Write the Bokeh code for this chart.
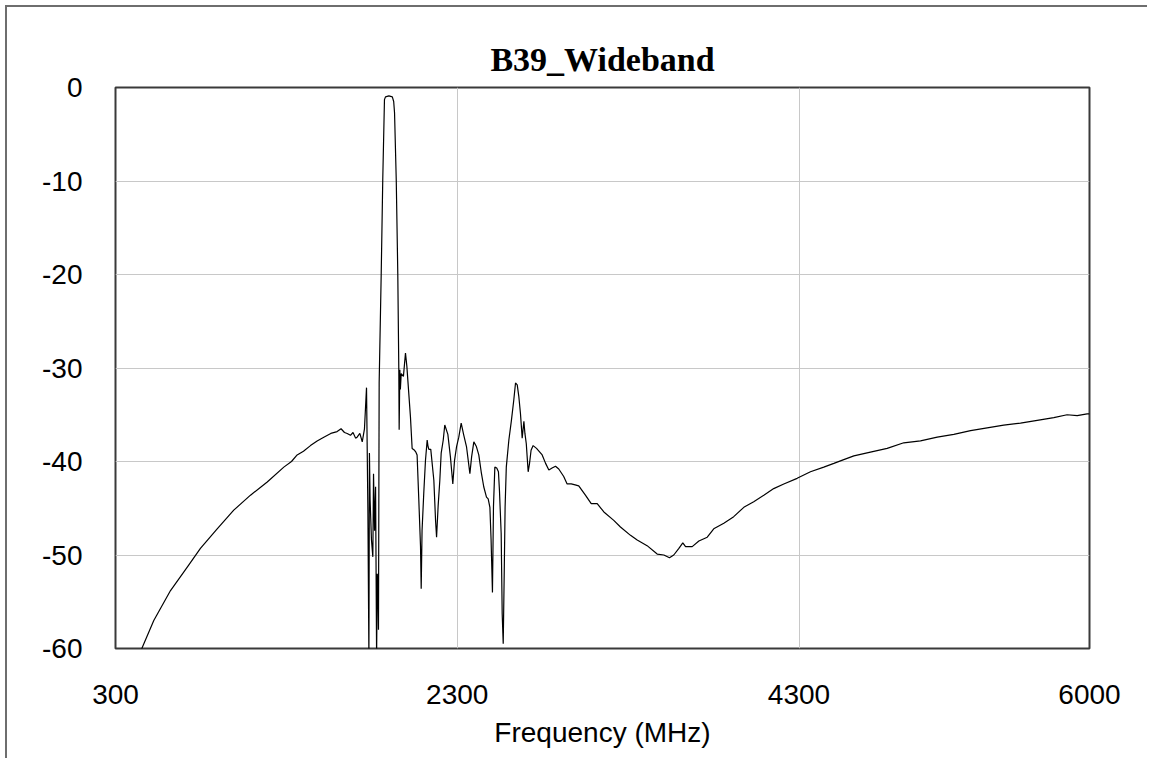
from bokeh.plotting import figure
from bokeh.layouts import column
from bokeh.models import Range1d, FixedTicker, PrintfTickFormatter
from bokeh.embed import file_html
from bokeh.resources import INLINE

title_text = "B39_Wideband"
x_label = "Frequency (MHz)"
x_ticks = [300, 2300, 4300, 6000]
y_ticks = [0, -10, -20, -30, -40, -50, -60]

freq = [440, 524, 622, 720, 797, 895, 992, 1090, 1188, 1285, 1330, 1363, 1400,
        1441, 1480, 1519, 1560, 1597, 1620, 1640, 1656, 1675, 1690, 1705, 1714,
        1730, 1744, 1757, 1769, 1777, 1783, 1786, 1790, 1798, 1806, 1810, 1816,
        1822, 1828, 1832, 1836, 1839, 1843, 1855, 1864, 1874, 1880, 1900, 1920,
        1928, 1933, 1943, 1952, 1958, 1960, 1964, 1967, 1972, 1985, 1997, 2005,
        2026, 2036, 2050, 2058, 2065, 2075, 2085, 2089, 2094, 2104, 2114, 2124,
        2129, 2134, 2145, 2163, 2173, 2179, 2188, 2198, 2206, 2218, 2227, 2245,
        2260, 2274, 2284, 2296, 2309, 2323, 2337, 2354, 2374, 2384, 2397, 2412,
        2426, 2440, 2455, 2471, 2481, 2491, 2498, 2506, 2512, 2520, 2531, 2541,
        2547, 2557, 2563, 2569, 2575, 2580, 2587, 2602, 2617, 2631, 2641, 2651,
        2660, 2670, 2680, 2690, 2696, 2704, 2715, 2723, 2732, 2744, 2764, 2783,
        2797, 2817, 2836, 2855, 2875, 2894, 2923, 2943, 2967, 2990, 3011, 3050,
        3084, 3119, 3158, 3216, 3255, 3314, 3353, 3411, 3470, 3509, 3542, 3567,
        3597, 3620, 3636, 3675, 3714, 3763, 3801, 3860, 3918, 3977, 4035, 4094,
        4152, 4211, 4289, 4367, 4445, 4504, 4562, 4621, 4718, 4816, 4913, 5011,
        5109, 5206, 5304, 5401, 5498, 5596, 5694, 5791, 5869, 5928, 5986, 6000]

s21_db = [-60.6, -57.0, -53.8, -51.3, -49.3, -47.2, -45.2, -43.6, -42.2, -40.6,
          -40.0, -39.3, -38.9, -38.3, -37.8, -37.4, -37.0, -36.8, -36.5, -36.9,
          -37.0, -37.2, -36.9, -37.5, -37.4, -37.0, -37.9, -36.5, -32.1, -45.2,
          -61.0, -39.1, -44.1, -48.4, -50.2, -41.3, -47.4, -42.7, -61.0, -52.0,
          -53.6, -58.0, -31.6, -19.9, -9.9, -1.3, -1.0, -0.9, -1.0, -1.5, -2.7,
          -9.9, -19.9, -30.2, -36.6, -30.2, -32.3, -30.6, -30.9, -28.4, -29.8,
          -35.2, -38.6, -38.8, -39.0, -39.3, -44.1, -49.1, -53.6, -47.4, -43.4,
          -39.9, -37.7, -38.4, -38.7, -38.7, -42.0, -46.3, -48.1, -44.8, -42.0,
          -39.1, -37.7, -36.1, -37.1, -39.5, -42.4, -39.9, -38.4, -37.4, -35.9,
          -37.1, -38.4, -41.3, -39.5, -37.9, -38.4, -39.3, -41.1, -42.7, -43.8,
          -44.0, -44.9, -48.4, -54.0, -44.8, -40.6, -40.7, -41.1, -43.1, -47.7,
          -56.3, -59.5, -51.7, -44.9, -40.6, -37.7, -35.6, -33.4, -31.6, -31.8,
          -33.0, -34.9, -37.5, -35.7, -37.0, -38.1, -41.1, -40.2, -38.8, -38.3,
          -38.6, -39.0, -39.3, -40.2, -40.9, -40.7, -40.5, -40.8, -41.6, -42.4,
          -42.4, -42.5, -42.6, -43.6, -44.5, -44.5, -45.4, -46.3, -47.0, -47.9,
          -48.4, -49.0, -49.9, -50.0, -50.3, -50.0, -49.3, -48.7, -49.1, -49.1,
          -48.5, -48.1, -47.2, -46.6, -45.9, -44.9, -44.3, -43.6, -42.9, -42.4,
          -41.8, -41.1, -40.6, -40.2, -39.8, -39.4, -39.0, -38.6, -38.0, -37.8,
          -37.4, -37.1, -36.7, -36.4, -36.1, -35.9, -35.6, -35.3, -35.0, -35.1,
          -34.9, -34.9]

p = figure(frame_width=974, frame_height=561,
           min_border_left=108, min_border_right=60,
           min_border_top=80, min_border_bottom=112,
           x_range=Range1d(300, 6000), y_range=Range1d(-60, 0),
           output_backend="svg", toolbar_location=None, tools="")

p.title.text = title_text
p.title.align = "center"
p.title.text_font = "Liberation Serif"
p.title.text_font_style = "bold"
p.title.text_font_size = "34px"
p.title.text_color = "black"
p.title.standoff = 20

p.outline_line_color = "#3a3a3a"
p.outline_line_width = 2

p.line(freq, s21_db, line_color="black", line_width=1.2)

for ax in (p.xaxis[0], p.yaxis[0]):
    ax.axis_line_color = None
    ax.major_tick_line_color = None
    ax.minor_tick_line_color = None
    ax.major_label_text_font = "Liberation Sans"
    ax.major_label_text_font_size = "28px"
    ax.major_label_text_color = "black"

p.xaxis.ticker = FixedTicker(ticks=x_ticks)
p.yaxis.ticker = FixedTicker(ticks=y_ticks)
p.yaxis.formatter = PrintfTickFormatter(format="%d")
p.xaxis.formatter = PrintfTickFormatter(format="%d")
p.xaxis.major_label_standoff = 30
p.yaxis.major_label_standoff = 27
p.xaxis.axis_label = x_label
p.xaxis.axis_label_text_font = "Liberation Sans"
p.xaxis.axis_label_text_font_size = "28px"
p.xaxis.axis_label_text_font_style = "normal"
p.xaxis.axis_label_text_color = "black"
p.xaxis.axis_label_standoff = 10

p.grid.grid_line_color = "#c8c8c8"
p.grid.grid_line_width = 1
p.xgrid.ticker = FixedTicker(ticks=x_ticks)
p.ygrid.ticker = FixedTicker(ticks=y_ticks)

page = column(p, styles={"margin-left": "7px", "margin-top": "7px",
                         "box-shadow": "-2px -2px 0px 0px #6e6e6e"})

open("out.html", "w").write(file_html(page, INLINE))
